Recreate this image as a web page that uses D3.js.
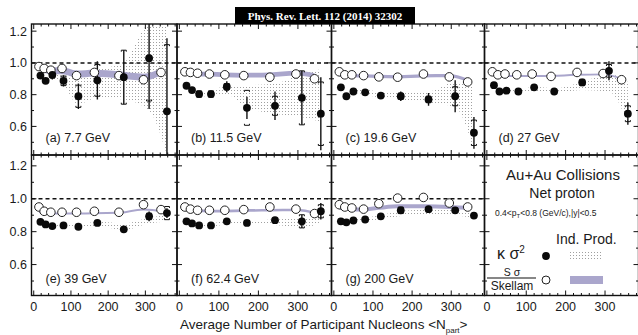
<!DOCTYPE html>
<html>
<head>
<meta charset="utf-8">
<script src="https://cdn.jsdelivr.net/npm/d3@7"></script>
<style>
  body { margin: 0; background: #fff; }
  svg { display: block; }
  text { font-family: "Liberation Sans", Arial, sans-serif; fill: #1a1a1a; }
</style>
</head>
<body>
<svg id="chart" width="638" height="335"></svg>
<script>
// panel labels, one per energy
const panelLabels = ["(a) 7.7 GeV", "(b) 11.5 GeV", "(c) 19.6 GeV", "(d) 27 GeV",
                     "(e) 39 GeV", "(f) 62.4 GeV", "(g) 200 GeV"];

// <Npart> of the 9 centrality bins (kappa points sit slightly right of the Skellam ones)
const nKappa   = [18, 32, 50, 80, 120, 171, 242, 310, 358];
const nSkellam = [14, 28, 46, 76, 115, 163, 229, 295, 342];

// kappa*sigma^2, stat and sys errors
const kappa = [
  [0.920, 0.887, 0.925, 0.887, 0.790, 0.890, 0.910, 1.030, 0.695],
  [0.856, 0.829, 0.804, 0.804, 0.850, 0.717, 0.730, 0.780, 0.680],
  [0.846, 0.790, 0.820, 0.815, 0.794, 0.790, 0.770, 0.790, 0.560],
  [0.860, 0.820, 0.825, 0.820, 0.846, 0.820, 0.877, 0.950, 0.680],
  [0.860, 0.844, 0.834, 0.838, 0.830, 0.853, 0.814, 0.893, 0.913],
  [0.863, 0.850, 0.838, 0.838, 0.863, 0.853, 0.870, 0.863, 0.924],
  [0.863, 0.857, 0.868, 0.874, 0.893, 0.930, 0.937, 0.930, 0.898]
];
const kappaStat = [
  [0.015, 0.015, 0.030, 0.035, 0.080, 0.120, 0.170, 0.320, 0.460],
  [0.010, 0.010, 0.012, 0.020, 0.035, 0.070, 0.090, 0.170, 0.230],
  [0.008, 0.008, 0.010, 0.012, 0.020, 0.030, 0.040, 0.100, 0.100],
  [0.006, 0.006, 0.008, 0.008, 0.010, 0.012, 0.020, 0.060, 0.070],
  [0.005, 0.005, 0.005, 0.006, 0.006, 0.008, 0.010, 0.030, 0.030],
  [0.005, 0.005, 0.005, 0.006, 0.006, 0.008, 0.010, 0.040, 0.050],
  [0.004, 0.004, 0.005, 0.005, 0.006, 0.008, 0.010, 0.015, 0.020]
];
const kappaSys = [
  [0.010, 0.010, 0.020, 0.030, 0.070, 0.100, 0.170, 0.270, 0.420],
  [0.008, 0.008, 0.020, 0.020, 0.020, 0.110, 0.060, 0.170, 0.200],
  [0.006, 0.006, 0.008, 0.010, 0.010, 0.020, 0.020, 0.060, 0.080],
  [0.004, 0.004, 0.004, 0.004, 0.005, 0.005, 0.020, 0.040, 0.050],
  [0.004, 0.004, 0.004, 0.004, 0.004, 0.004, 0.004, 0.020, 0.040],
  [0.004, 0.004, 0.004, 0.004, 0.004, 0.004, 0.004, 0.040, 0.040],
  [0.003, 0.003, 0.003, 0.003, 0.004, 0.020, 0.004, 0.015, 0.010]
];

// S*sigma / Skellam
const skellam = [
  [0.977, 0.965, 0.954, 0.965, 0.920, 0.940, 0.920, 0.894, 0.940],
  [0.944, 0.940, 0.935, 0.930, 0.925, 0.920, 0.910, 0.930, 0.900],
  [0.944, 0.925, 0.925, 0.920, 0.912, 0.910, 0.930, 0.912, 0.880],
  [0.944, 0.925, 0.930, 0.925, 0.930, 0.915, 0.940, 0.933, 0.894],
  [0.950, 0.924, 0.918, 0.918, 0.918, 0.924, 0.918, 0.964, 0.934],
  [0.950, 0.937, 0.930, 0.930, 0.930, 0.934, 0.950, 0.937, 0.910],
  [0.964, 0.950, 0.944, 0.937, 0.970, 1.004, 1.008, 0.974, 0.950]
];

// independent production baselines
const indSkellam = [
  [0.975, 0.960, 0.950, 0.950, 0.930, 0.935, 0.925, 0.910, 0.945],
  [0.935, 0.935, 0.930, 0.930, 0.925, 0.922, 0.925, 0.935, 0.920],
  [0.925, 0.922, 0.920, 0.918, 0.915, 0.912, 0.918, 0.920, 0.890],
  [0.925, 0.920, 0.918, 0.918, 0.918, 0.918, 0.925, 0.928, 0.900],
  [0.920, 0.915, 0.912, 0.910, 0.910, 0.912, 0.915, 0.935, 0.925],
  [0.935, 0.930, 0.928, 0.925, 0.925, 0.928, 0.930, 0.932, 0.915],
  [0.945, 0.940, 0.935, 0.935, 0.945, 0.955, 0.955, 0.950, 0.945]
];
const indSkellamWidth = [0.022, 0.015, 0.010, 0.006, 0.006, 0.008, 0.012];
const indKappaLow = [
  [0.910, 0.880, 0.900, 0.860, 0.740, 0.780, 0.770, 0.700, 0.420],
  [0.850, 0.820, 0.790, 0.790, 0.800, 0.720, 0.680, 0.660, 0.630],
  [0.840, 0.780, 0.810, 0.800, 0.780, 0.770, 0.750, 0.720, 0.450],
  [0.850, 0.810, 0.815, 0.810, 0.820, 0.810, 0.830, 0.820, 0.620],
  [0.850, 0.835, 0.825, 0.830, 0.820, 0.835, 0.810, 0.850, 0.860],
  [0.855, 0.840, 0.830, 0.830, 0.845, 0.840, 0.840, 0.820, 0.860],
  [0.855, 0.850, 0.860, 0.865, 0.875, 0.895, 0.905, 0.900, 0.880]
];
const indKappaHigh = [
  [0.930, 0.900, 0.930, 0.920, 0.920, 0.960, 1.000, 1.240, 1.240],
  [0.860, 0.840, 0.810, 0.820, 0.860, 0.860, 0.870, 0.930, 0.960],
  [0.850, 0.800, 0.830, 0.830, 0.820, 0.820, 0.820, 0.880, 0.850],
  [0.870, 0.830, 0.835, 0.830, 0.850, 0.840, 0.880, 0.930, 0.880],
  [0.870, 0.855, 0.845, 0.850, 0.845, 0.860, 0.850, 0.885, 0.900],
  [0.870, 0.860, 0.850, 0.850, 0.870, 0.865, 0.875, 0.880, 0.900],
  [0.870, 0.865, 0.875, 0.885, 0.900, 0.925, 0.935, 0.930, 0.910]
];

const xTickLabels = ["0", "100", "200", "300"];
const yTickLabels = ["0.6", "0.8", "1.0", "1.2"];

// layout
const colX = [31.5, 177, 331.5, 484.5, 638.5];
const rowY = [24, 155, 295.5];
const yDomains = [[0.42, 1.245], [0.412, 1.266]];
const xDomain = [-6, 385];
const lavender = "#aaa6cc";

const svg = d3.select("#chart");
const defs = svg.append("defs");
defs.append("pattern")
  .attr("id", "dots").attr("width", 3).attr("height", 3)
  .attr("patternUnits", "userSpaceOnUse")
  .append("rect").attr("width", 1).attr("height", 1).attr("fill", "#a0a0a0");

function scalesFor(i) {
  const col = i % 4, row = Math.floor(i / 4);
  const x = d3.scaleLinear().domain(xDomain).range([colX[col], colX[col + 1]]);
  const y = d3.scaleLinear().domain(yDomains[row]).range([rowY[row + 1], rowY[row]]);
  return { x, y, col, row };
}

function drawFrame(i) {
  const { x, y, col, row } = scalesFor(i);
  const g = svg.append("g").attr("class", "frame");
  const x0 = colX[col], x1 = colX[col + 1], y0 = rowY[row], y1 = rowY[row + 1];
  g.append("rect").attr("x", x0).attr("y", y0).attr("width", x1 - x0).attr("height", y1 - y0)
    .attr("fill", "none").attr("stroke", "#111").attr("stroke-width", 1.4);

  const xt = d3.range(0, 381, 20);
  g.selectAll(".xt").data(xt).join("path")
    .attr("d", d => {
      const len = d % 100 === 0 ? 5 : 2.5;
      return `M${x(d)},${y1}v${-len}M${x(d)},${y0}v${len}`;
    })
    .attr("stroke", "#111").attr("stroke-width", 1);

  const yt = d3.range(0.5, 1.25, 0.1).map(v => +v.toFixed(1));
  g.selectAll(".yt").data(yt).join("path")
    .attr("d", d => {
      const len = Math.round(d * 10) % 2 === 0 ? 5 : 2.5;
      return `M${x0},${y(d)}h${len}M${x1},${y(d)}h${-len}`;
    })
    .attr("stroke", "#111").attr("stroke-width", 1);

  if (row === 1) {
    g.selectAll(".xl").data(xTickLabels).join("text")
      .attr("x", d => x(+d)).attr("y", 311)
      .attr("text-anchor", "middle").attr("font-size", 12.5)
      .text(d => d);
  }
  if (col === 0) {
    g.selectAll(".yl").data(yTickLabels).join("text")
      .attr("x", 27).attr("y", d => y(+d) + 4.5)
      .attr("text-anchor", "end").attr("font-size", 12.5)
      .text(d => d);
  }
}

function drawPanel(i) {
  const { x, y, col, row } = scalesFor(i);
  const clipId = "clip" + i;
  defs.append("clipPath").attr("id", clipId).append("rect")
    .attr("x", colX[col]).attr("y", rowY[row])
    .attr("width", colX[col + 1] - colX[col]).attr("height", rowY[row + 1] - rowY[row]);
  const g = svg.append("g").attr("clip-path", `url(#${clipId})`);

  // kappa ind. prod. band (dotted)
  const kBand = nKappa.map((n, j) => ({ n, lo: indKappaLow[i][j], hi: indKappaHigh[i][j] }));
  g.append("path")
    .attr("d", d3.area().x(d => x(d.n)).y0(d => y(d.lo)).y1(d => y(d.hi)).curve(d3.curveMonotoneX)(kBand))
    .attr("fill", "url(#dots)");

  // skellam ind. prod. band
  const w = indSkellamWidth[i];
  const sBand = nSkellam.map((n, j) => ({ n, v: indSkellam[i][j] }));
  g.append("path")
    .attr("d", d3.area().x(d => x(d.n)).y0(d => y(d.v - w)).y1(d => y(d.v + w)).curve(d3.curveMonotoneX)(sBand))
    .attr("fill", lavender);

  // unity line
  g.append("line")
    .attr("x1", colX[col]).attr("x2", colX[col + 1])
    .attr("y1", y(1)).attr("y2", y(1))
    .attr("stroke", "#111").attr("stroke-width", 1.5).attr("stroke-dasharray", "4,3");

  const pts = nKappa.map((n, j) => ({ n, v: kappa[i][j], e: kappaStat[i][j], s: kappaSys[i][j] }));

  // stat error bars
  g.selectAll(".eb").data(pts).join("line")
    .attr("x1", d => x(d.n)).attr("x2", d => x(d.n))
    .attr("y1", d => y(d.v - d.e)).attr("y2", d => y(d.v + d.e))
    .attr("stroke", "#111").attr("stroke-width", 1.4);

  // sys caps
  g.selectAll(".sys").data(pts.filter(d => d.s >= 0.015)).join("path")
    .attr("d", d => {
      const cx = x(d.n), yt = y(d.v + d.s), yb = y(d.v - d.s);
      return `M${cx - 2.5},${yt + 1.5}V${yt}H${cx + 2.5}V${yt + 1.5}` +
             `M${cx - 2.5},${yb - 1.5}V${yb}H${cx + 2.5}V${yb - 1.5}`;
    })
    .attr("fill", "none").attr("stroke", "#111").attr("stroke-width", 1);

  // S sigma / Skellam
  g.selectAll(".open").data(nSkellam.map((n, j) => ({ n, v: skellam[i][j] }))).join("circle")
    .attr("cx", d => x(d.n)).attr("cy", d => y(d.v)).attr("r", 4.3)
    .attr("fill", "#fff").attr("stroke", "#222").attr("stroke-width", 1);

  // kappa sigma^2
  g.selectAll(".fill").data(pts).join("circle")
    .attr("cx", d => x(d.n)).attr("cy", d => y(d.v)).attr("r", 3.9)
    .attr("fill", "#0a0a0a");

  svg.append("text")
    .attr("x", colX[col] + 14).attr("y", rowY[row + 1] - 13)
    .attr("font-size", 12.5)
    .text(panelLabels[i]);
}

for (let i = 0; i < 7; i++) drawPanel(i);
for (let i = 0; i < 8; i++) drawFrame(i);

// legend panel (h)
const leg = svg.append("g");
leg.append("text").attr("x", 563).attr("y", 180).attr("text-anchor", "middle")
  .attr("font-size", 15).text("Au+Au Collisions");
leg.append("text").attr("x", 562).attr("y", 198).attr("text-anchor", "middle")
  .attr("font-size", 14).text("Net proton");
const kin = leg.append("text").attr("x", 495).attr("y", 216).attr("font-size", 8.5);
kin.append("tspan").text("0.4<p");
kin.append("tspan").attr("font-size", 6).attr("dy", 2).text("T");
kin.append("tspan").attr("dy", -2).text("<0.8 (GeV/c),|y|<0.5");
leg.append("text").attr("x", 556).attr("y", 244).attr("font-size", 14).text("Ind. Prod.");

const kLab = leg.append("text").attr("x", 497).attr("y", 259).attr("font-size", 16);
kLab.append("tspan").text("κ σ");
kLab.append("tspan").attr("font-size", 10).attr("dy", -6).text("2");
leg.append("circle").attr("cx", 546).attr("cy", 256).attr("r", 3.9).attr("fill", "#0a0a0a");
leg.append("rect").attr("x", 570).attr("y", 252).attr("width", 33).attr("height", 8).attr("fill", "url(#dots)");

leg.append("text").attr("x", 512).attr("y", 275.5).attr("text-anchor", "middle")
  .attr("font-size", 10.5).text("S σ");
leg.append("line").attr("x1", 487).attr("x2", 536).attr("y1", 278).attr("y2", 278)
  .attr("stroke", "#111").attr("stroke-width", 1.1);
leg.append("text").attr("x", 512).attr("y", 290).attr("text-anchor", "middle")
  .attr("font-size", 12).text("Skellam");
leg.append("circle").attr("cx", 546).attr("cy", 280).attr("r", 4)
  .attr("fill", "#fff").attr("stroke", "#222").attr("stroke-width", 1);
leg.append("rect").attr("x", 570).attr("y", 276).attr("width", 33).attr("height", 8).attr("fill", lavender);

// x axis title
const xt = svg.append("text").attr("x", 180).attr("y", 329).attr("font-size", 13.5);
xt.append("tspan").text("Average Number of Participant Nucleons <N");
xt.append("tspan").attr("font-size", 8).attr("dy", 4).text("part");
xt.append("tspan").attr("dy", -4).text(">");

// journal banner
svg.append("rect").attr("x", 235).attr("y", 7).attr("width", 180).attr("height", 17).attr("fill", "#000");
svg.append("text").attr("x", 325).attr("y", 20).attr("text-anchor", "middle")
  .style("font-family", "'Liberation Serif', 'DejaVu Serif', serif").style("font-weight", "bold")
  .style("font-size", "11px").style("fill", "#fff")
  .text("Phys. Rev. Lett. 112 (2014) 32302");
</script>
</body>
</html>
